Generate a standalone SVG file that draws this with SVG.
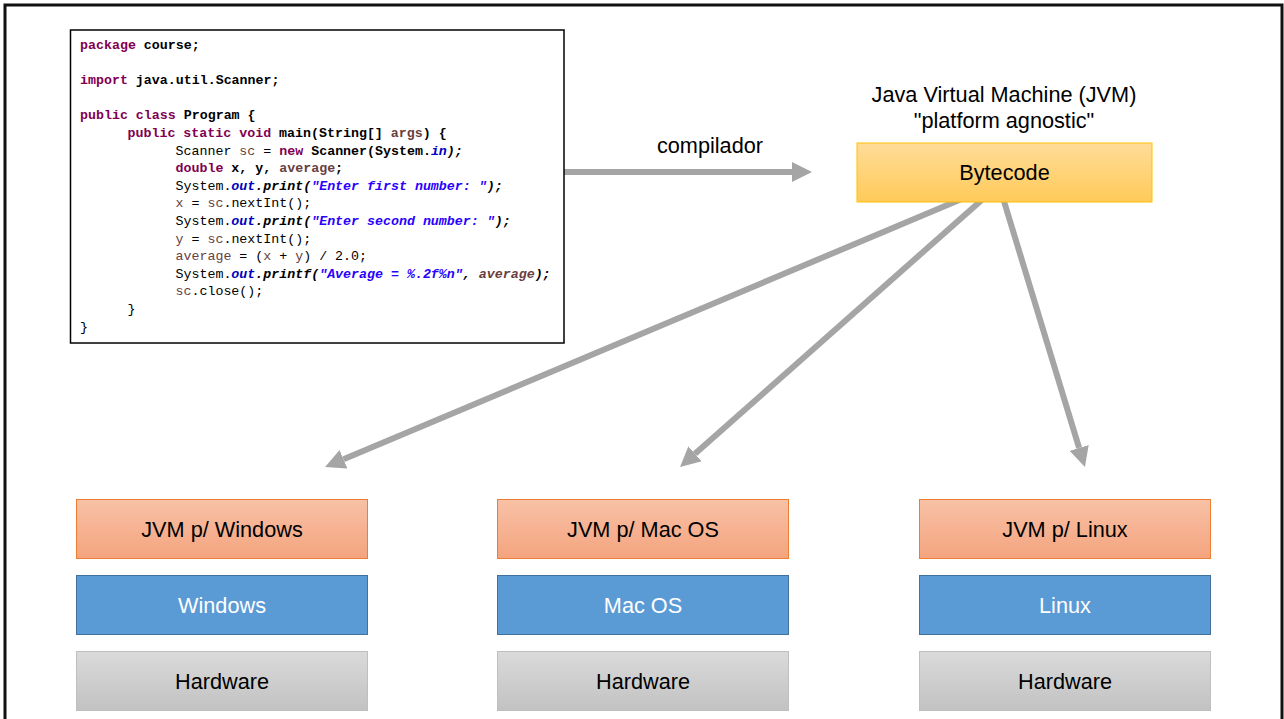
<svg xmlns="http://www.w3.org/2000/svg" width="1284" height="719" viewBox="0 0 1284 719">
<defs>
<style>
.lbl{font-family:"Liberation Sans",Arial,sans-serif;font-size:21.7px;fill:#000;text-anchor:middle}
.wht{fill:#fff}
.code{font-family:"Liberation Mono","Courier New",monospace;font-size:13.3px;fill:#000}
.b{font-weight:bold}
.i{font-style:italic}
.kw{fill:#7F0055;font-weight:bold}
.v{fill:#6A3E3E}
.s{fill:#2A00FF}
.f{fill:#0000C0}
.conn{stroke:#A5A5A5;stroke-width:6;fill:none}
.jvm{fill:url(#gOrange);stroke:#ED7D31;stroke-width:1}
.os{fill:#5B9BD5;stroke:#41719C;stroke-width:1}
.hw{fill:url(#gGray);stroke:#BFBFBF;stroke-width:1}
</style>
<linearGradient id="gOrange" x1="0" y1="0" x2="0" y2="1"><stop offset="0" stop-color="#F8C1A6"/><stop offset="1" stop-color="#F4A47E"/></linearGradient>
<linearGradient id="gGray" x1="0" y1="0" x2="0" y2="1"><stop offset="0" stop-color="#DADADA"/><stop offset="1" stop-color="#C2C2C2"/></linearGradient>
<linearGradient id="gGold" x1="0" y1="0" x2="0" y2="1"><stop offset="0" stop-color="#FFDC98"/><stop offset="1" stop-color="#FFCA58"/></linearGradient>
<marker id="arr" markerUnits="userSpaceOnUse" markerWidth="20" markerHeight="20" refX="0" refY="10" orient="auto" viewBox="0 0 20 20">
<path d="M0,0 L20,10 L0,20 z" fill="#A5A5A5"/>
</marker>
</defs>
<rect x="0" y="0" width="1284" height="719" fill="#fff"/>
<rect x="5" y="5" width="1277" height="725" fill="none" stroke="#111" stroke-width="3"/>

<g id="connectors">
<line class="conn" x1="564" y1="172" x2="792" y2="172" marker-end="url(#arr)"/>
<line class="conn" x1="964" y1="198" x2="343.5" y2="459.3" marker-end="url(#arr)"/>
<line class="conn" x1="984" y1="198" x2="695" y2="453.8" marker-end="url(#arr)"/>
<line class="conn" x1="1003" y1="198" x2="1079.1" y2="447.9" marker-end="url(#arr)"/>
<text class="lbl" x="710" y="153">compilador</text>
</g>

<g id="code">
<rect x="70.5" y="30" width="493.5" height="313" fill="#fff" stroke="#000" stroke-width="1.5"/>
<text class="code" x="80" y="49"><tspan class="kw">package</tspan><tspan class="b"> course;</tspan></text>
<text class="code" x="80" y="84.2"><tspan class="kw">import</tspan><tspan class="b"> java.util.Scanner;</tspan></text>
<text class="code" x="80" y="119.4"><tspan class="kw">public class</tspan><tspan class="b"> Program {</tspan></text>
<text class="code" x="127.5" y="137"><tspan class="kw">public static void</tspan><tspan class="b"> main(String[] </tspan><tspan class="b v">args</tspan><tspan class="b">) {</tspan></text>
<text class="code" x="175.5" y="154.6">Scanner <tspan class="v">sc</tspan> = <tspan class="kw">new</tspan><tspan class="b"> Scanner(System.</tspan><tspan class="b i f">in</tspan><tspan class="b i">);</tspan></text>
<text class="code" x="175.5" y="172.2"><tspan class="kw">double</tspan><tspan class="b"> x, y, </tspan><tspan class="b v">average</tspan><tspan class="b">;</tspan></text>
<text class="code" x="175.5" y="189.8">System.<tspan class="b i f">out</tspan><tspan class="b i">.print(</tspan><tspan class="b i s">"Enter first number: "</tspan><tspan class="b i">);</tspan></text>
<text class="code" x="175.5" y="207.4"><tspan class="v">x</tspan> = <tspan class="v">sc</tspan>.nextInt();</text>
<text class="code" x="175.5" y="225">System.<tspan class="b i f">out</tspan><tspan class="b i">.print(</tspan><tspan class="b i s">"Enter second number: "</tspan><tspan class="b i">);</tspan></text>
<text class="code" x="175.5" y="242.6"><tspan class="v">y</tspan> = <tspan class="v">sc</tspan>.nextInt();</text>
<text class="code" x="175.5" y="260.2"><tspan class="v">average</tspan> = (<tspan class="v">x</tspan> + <tspan class="v">y</tspan>) / 2.0;</text>
<text class="code" x="175.5" y="277.8">System.<tspan class="b i f">out</tspan><tspan class="b i">.printf(</tspan><tspan class="b i s">"Average = %.2f%n"</tspan><tspan class="b i">, </tspan><tspan class="b i v">average</tspan><tspan class="b i">);</tspan></text>
<text class="code" x="175.5" y="295.4"><tspan class="v">sc</tspan>.close();</text>
<text class="code" x="127.5" y="313">}</text>
<text class="code" x="80" y="330.6">}</text>
</g>

<g id="jvm-title">
<text class="lbl" x="1004" y="102">Java Virtual Machine (JVM)</text>
<text class="lbl" x="1004" y="128">"platform agnostic"</text>
</g>

<g id="bytecode">
<rect x="857" y="143" width="295" height="59" fill="url(#gGold)" stroke="#FFC000" stroke-width="1"/>
<text class="lbl" x="1004.5" y="180">Bytecode</text>
</g>

<g id="jvm-windows"><rect class="jvm" x="76.5" y="499.5" width="291" height="59"/><text class="lbl" x="222" y="536.5">JVM p/ Windows</text></g>
<g id="os-windows"><rect class="os" x="76.5" y="575.5" width="291" height="59"/><text class="lbl wht" x="222" y="612.5">Windows</text></g>
<g id="hw-windows"><rect class="hw" x="76.5" y="651.5" width="291" height="59"/><text class="lbl" x="222" y="688.5">Hardware</text></g>

<g id="jvm-mac"><rect class="jvm" x="497.5" y="499.5" width="291" height="59"/><text class="lbl" x="643" y="536.5">JVM p/ Mac OS</text></g>
<g id="os-mac"><rect class="os" x="497.5" y="575.5" width="291" height="59"/><text class="lbl wht" x="643" y="612.5">Mac OS</text></g>
<g id="hw-mac"><rect class="hw" x="497.5" y="651.5" width="291" height="59"/><text class="lbl" x="643" y="688.5">Hardware</text></g>

<g id="jvm-linux"><rect class="jvm" x="919.5" y="499.5" width="291" height="59"/><text class="lbl" x="1065" y="536.5">JVM p/ Linux</text></g>
<g id="os-linux"><rect class="os" x="919.5" y="575.5" width="291" height="59"/><text class="lbl wht" x="1065" y="612.5">Linux</text></g>
<g id="hw-linux"><rect class="hw" x="919.5" y="651.5" width="291" height="59"/><text class="lbl" x="1065" y="688.5">Hardware</text></g>
</svg>
